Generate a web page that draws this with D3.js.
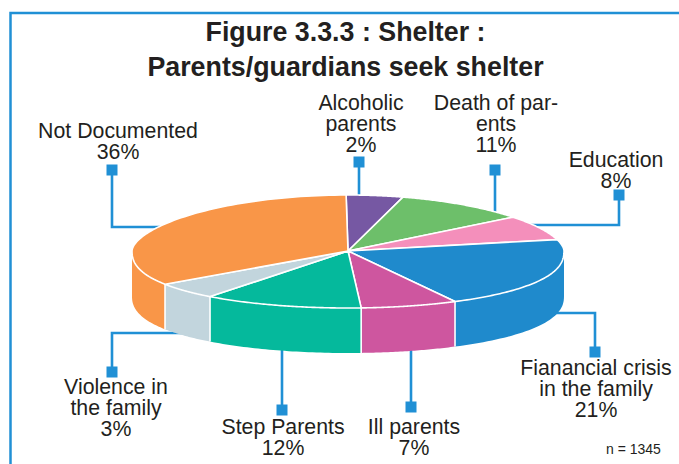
<!DOCTYPE html>
<html><head><meta charset="utf-8">
<script src="https://cdn.jsdelivr.net/npm/d3@7"></script>
<style>html,body{margin:0;padding:0;background:#fff}svg{display:block}text{font-family:"Liberation Sans",Arial,sans-serif;fill:#231f20}</style>
</head><body><svg id="c" width="679" height="464"></svg>
<script>
const titleLines = ["Figure 3.3.3 : Shelter :", "Parents/guardians seek shelter"];
const categories = ["Alcoholic parents","Death of parents","Education","Fianancial crisis in the family","Ill parents","Step Parents","Violence in the family","Not Documented"];
const percentages = [2,11,8,21,7,12,3,36];
// Slice sweep as drawn in the picture, in degrees (the drawing is not proportional to its labels)
const drawnSweep = [15.25,35.05,25.7,74.8,26.2,43.2,18.2,121.6];
const colors = ["#7658a3","#6dbf6a","#f48fbb","#1f8acc","#ce569f","#05b99c","#c2d5dd","#f99648"];
const labelLines = [["Alcoholic","parents","2%"],["Death of par-","ents","11%"],["Education","8%"],["Fianancial crisis","in the family","21%"],["Ill parents","7%"],["Step Parents","12%"],["Violence in","the family","3%"],["Not Documented","36%"]];
const labelAnchors = [[361,110],[496,110],[616,167],[596,375],[414,434],[283,434],[116,394],[118,138]];
const leaders = [[[359,162],[359,200]],[[495,170],[495,215]],[[619,195],[619,225],[530,225]],[[595,352],[595,313],[550,313]],[[411,407],[411,345]],[[282,410],[282,345]],[[112,372],[112,333],[185,333]],[[112,170],[112,227],[160,227]]];
const frameColor = "#2090d5", leaderColor = "#2090d5";
const cx=348, cy=251, rx=216, ryUp=56, ryDown=57, depth=45;

const svg = d3.select("#c");
svg.append("path").attr("d","M10.5,464V13H679").attr("fill","none").attr("stroke",frameColor).attr("stroke-width",2.5);

const titleG = svg.append("g").attr("text-anchor","middle").attr("font-weight","bold").attr("font-size",26.8);
titleG.selectAll("text").data(titleLines).join("text").attr("x",345.5).attr("y",(d,i)=>41+i*35).text(d=>d);

// leaders
const line = d3.line();
svg.append("g").selectAll("path").data(leaders).join("path").attr("d",d=>line(d)).attr("fill","none").attr("stroke",leaderColor).attr("stroke-width",2.6);
svg.append("g").selectAll("rect").data(leaders).join("rect").attr("x",d=>d[0][0]-5.5).attr("y",d=>d[0][1]-5.5).attr("width",11).attr("height",11).attr("fill",leaderColor);

// pie
const pie = d3.pie().value(d=>d).sort(null).startAngle(-0.5*Math.PI/180).endAngle(359.5*Math.PI/180);
const arcs = pie(drawnSweep);
const px = a=>cx+rx*Math.sin(a);
const py = a=>{const c=Math.cos(a); return c>=0 ? cy-ryUp*Math.pow(c,1.15) : cy+ryDown*Math.pow(-c,0.85);};
const poly = d3.line();
const chart = svg.append("g");
// side walls: visible only over the lower half of the ellipse
const sides = arcs.map((d,i)=>{
  const a0=Math.max(d.startAngle,Math.PI/2), a1=Math.min(d.endAngle,1.5*Math.PI);
  if(a1<=a0) return null;
  const ts=d3.range(0,41).map(k=>a0+(a1-a0)*k/40);
  const pts=ts.map(t=>[px(t),py(t)]).concat(ts.slice().reverse().map(t=>[px(t),py(t)+depth]));
  return {pts,c:colors[i],a0,a1};
}).filter(Boolean);
chart.selectAll("path.side").data(sides).join("path").attr("class","side")
  .attr("d",d=>poly(d.pts)+"Z").attr("fill",d=>d.c);
// white joints between wall faces
chart.selectAll("path.joint").data(sides.filter(d=>d.a0>Math.PI/2)).join("path").attr("class","joint")
  .attr("d",d=>poly([[px(d.a0),py(d.a0)],[px(d.a0),py(d.a0)+depth]])).attr("stroke","#fff").attr("stroke-width",1.6);
// upper face
chart.selectAll("path.face").data(arcs).join("path").attr("class","face")
  .attr("d",d=>{
    const ts=d3.range(0,81).map(k=>d.startAngle+(d.endAngle-d.startAngle)*k/80);
    return poly([[cx,cy]].concat(ts.map(t=>[px(t),py(t)])))+"Z";
  }).attr("fill",(d,i)=>colors[i]).attr("stroke","#fff").attr("stroke-width",1.6).attr("stroke-linejoin","round");

// labels
const labels = svg.append("g").attr("text-anchor","middle").attr("font-size",21.3);
labels.selectAll("text").data(labelLines).join("text")
  .attr("transform",(d,i)=>`translate(${labelAnchors[i][0]},${labelAnchors[i][1]})`)
  .selectAll("tspan").data(d=>d).join("tspan").attr("x",0).attr("y",(d,i)=>i*21).text(d=>d);
svg.append("text").attr("x",606).attr("y",454).attr("font-size",14).text("n = 1345");
</script></body></html>
